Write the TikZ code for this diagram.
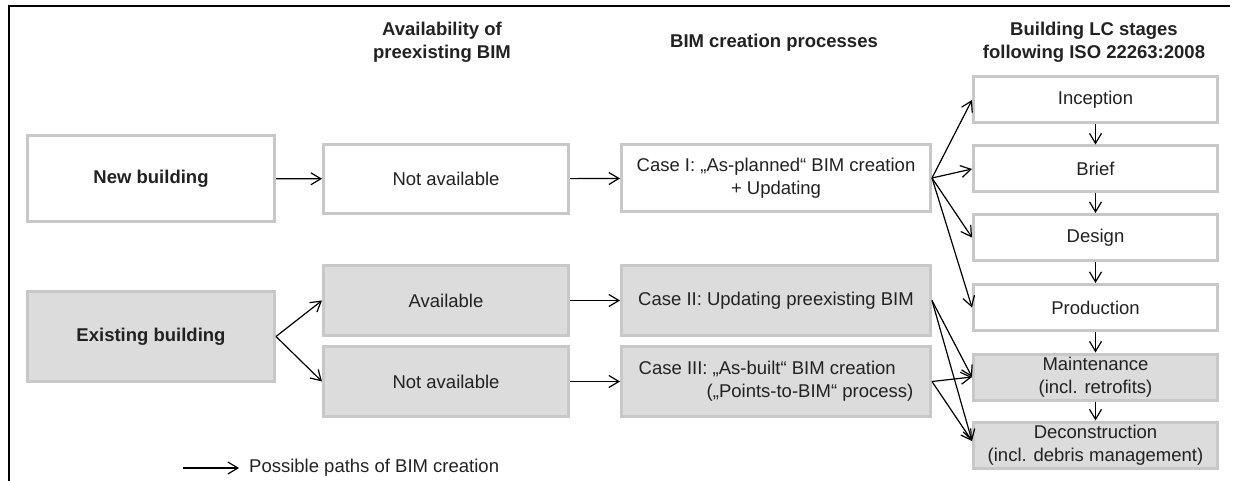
\documentclass[tikz,border=0pt]{standalone}
\usepackage{fontspec}
\setmainfont{Liberation Sans}
\usetikzlibrary{arrows.meta}
\definecolor{boxline}{HTML}{C8C8C8}
\definecolor{boxfill}{HTML}{DCDCDC}
\definecolor{txtgray}{HTML}{222222}
\begin{document}
\begin{tikzpicture}[x=1pt,y=-1pt,
  font=\fontsize{18.5}{23}\selectfont,text=txtgray,
  box/.style={draw=boxline,line width=3pt,fill=white,align=center,
    inner sep=2pt,minimum width=245pt,minimum height=69pt},
  oldbox/.style={box,fill=boxfill},
  casebox/.style={box,minimum width=309pt,minimum height=67pt},
  stagebox/.style={box,minimum width=244pt,minimum height=46pt},
  head/.style={font=\fontsize{18.5}{23}\selectfont\bfseries,align=center},
  bimpath/.style={-{Straight Barb[length=10pt,width=12pt]},line width=1.2pt,black}]
\useasboundingbox (0,0) rectangle (1235,481);
% frame
\draw[line width=2.5pt] (9,481) -- (9,6) -- (1230,6);
% column heads
\node[head] (headavail) at (442,42) {Availability of\\preexisting BIM};
\node[head] (headcase) at (774,43) {BIM creation processes};
\node[head] (headstage) at (1094,42) {Building LC stages\\following ISO 22263:2008};
% buildings
\node[box,minimum width=247pt,minimum height=86pt,font=\fontsize{18.5}{23}\selectfont\bfseries] (newb) at (151,178.5) {New building};
\node[oldbox,minimum width=247pt,minimum height=90pt,font=\fontsize{18.5}{23}\selectfont\bfseries] (existb) at (151,336.5) {Existing building};
% availability
\node[box] (nanew) at (446,179) {Not available};
\node[oldbox,minimum height=70pt] (avail) at (446,300.5) {Available};
\node[oldbox,minimum height=70pt] (naold) at (446,381.5) {Not available};
% cases
\node[casebox] (caseone) at (776,178) {Case I: „As-planned“ BIM creation\\+ Updating};
\node[casebox,fill=boxfill,minimum height=70pt] (casetwo) at (776,300.5) {Case II: Updating preexisting BIM};
\node[casebox,fill=boxfill,minimum height=70pt,align=left] (casethree) at (776,381.5) {Case III: „As-built“ BIM creation\\\hspace*{68pt}(„Points-to-BIM“ process)};
% LC stages
\node[stagebox] (incep) at (1095.5,100) {Inception};
\node[stagebox] (brief) at (1095.5,169) {Brief};
\node[stagebox] (design) at (1095.5,237.5) {Design};
\node[stagebox] (prod) at (1095.5,307.5) {Production};
\node[stagebox,fill=boxfill] (maint) at (1095.5,377) {Maintenance\\(incl. retrofits)};
\node[stagebox,fill=boxfill] (decon) at (1095.5,445) {Deconstruction\\(incl. debris management)};
% paths
\draw[bimpath] (newb) -- (nanew);
\draw[bimpath] (existb.east) -- (avail.west);
\draw[bimpath] (existb.east) -- (naold.west);
\draw[bimpath] (nanew) -- (caseone);
\draw[bimpath] (avail) -- (casetwo);
\draw[bimpath] (naold) -- (casethree);
\draw[bimpath] (caseone.east) -- (incep.west);
\draw[bimpath] (caseone.east) -- (brief.west);
\draw[bimpath] (caseone.east) -- (design.west);
\draw[bimpath] (caseone.east) -- (prod.west);
\draw[bimpath] (casetwo.east) -- (maint.west);
\draw[bimpath] (casetwo.east) -- ([yshift=4pt]decon.west);
\draw[bimpath] (casethree.east) -- (maint.west);
\draw[bimpath] (casethree.east) -- ([yshift=4pt]decon.west);
\draw[bimpath] (incep) -- (brief);
\draw[bimpath] (brief) -- (design);
\draw[bimpath] (design) -- (prod);
\draw[bimpath] (prod) -- (maint);
\draw[bimpath] (maint) -- (decon);
% legend
\coordinate (legfrom) at (183,468);
\node[anchor=west,inner xsep=10pt,inner ysep=3pt] (legend) at (239,468) {Possible paths of BIM creation};
\draw[bimpath] (legfrom) -- (legend.west);
\end{tikzpicture}
\end{document}
